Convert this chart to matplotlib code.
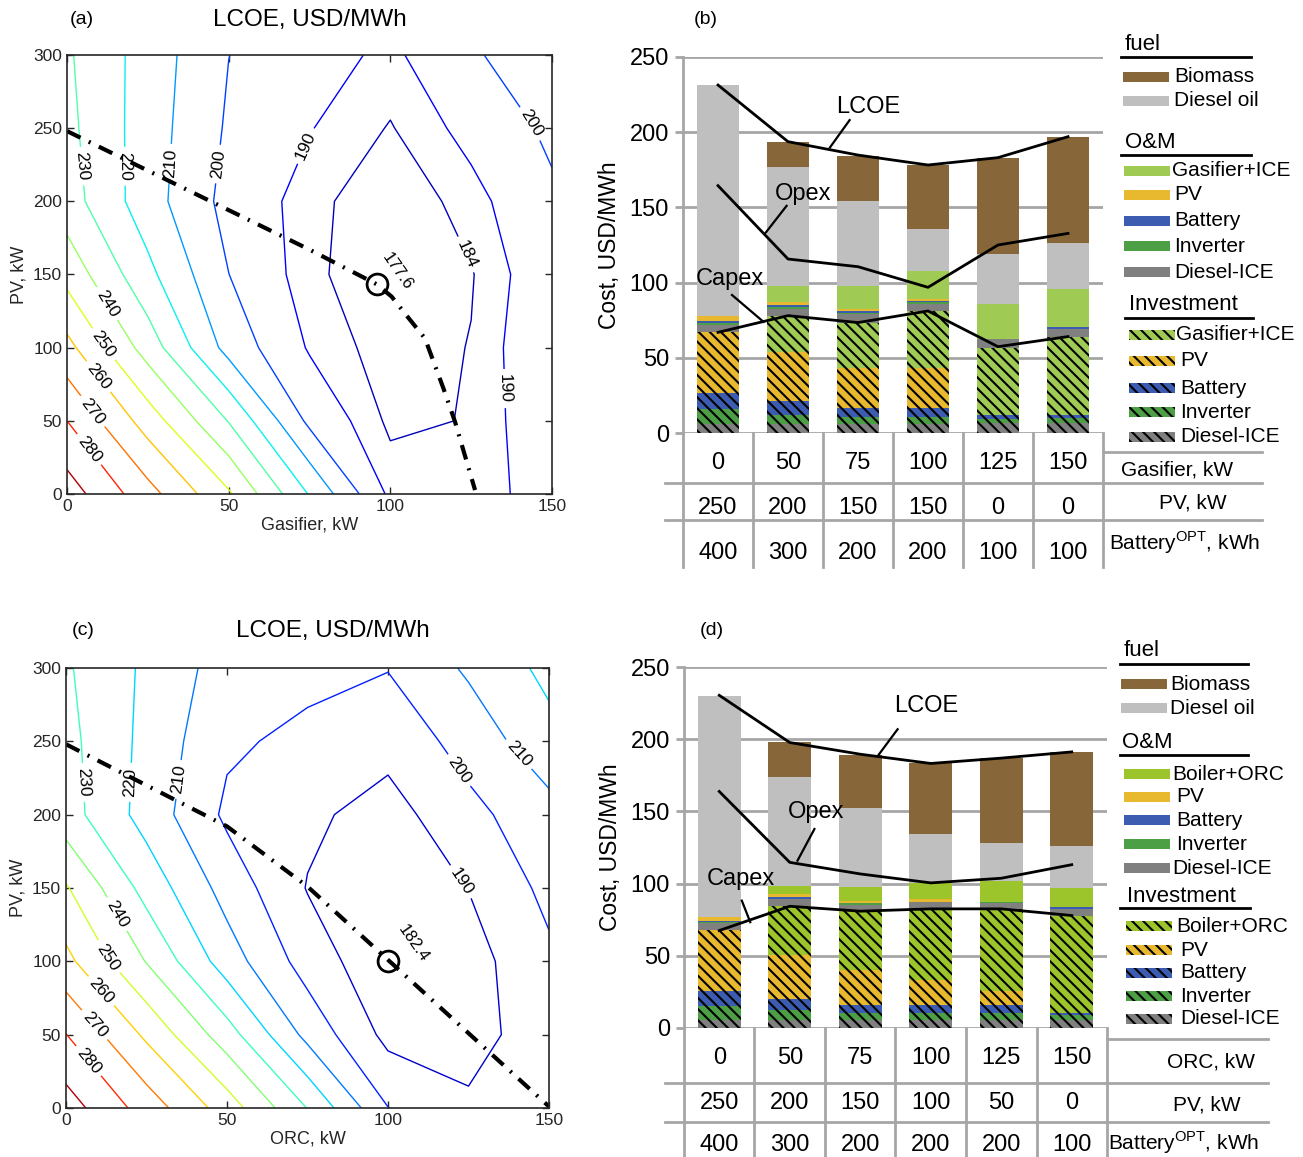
import numpy as np
import matplotlib
matplotlib.use('Agg')
import matplotlib.pyplot as plt
from matplotlib import font_manager
from matplotlib.colors import Normalize
from matplotlib.patches import Rectangle

plt.rcParams['font.family'] = ['Liberation Sans', 'DejaVu Sans']
plt.rcParams['mathtext.fontset'] = 'custom'
plt.rcParams['mathtext.rm'] = 'Liberation Sans'
plt.rcParams['hatch.linewidth'] = 1.5

# ---------------- contour maps: LCOE (USD/MWh), rows = PV kW, cols = gasifier / ORC kW
gen_kw = [0, 25, 50, 75, 100, 125, 150]
pv_kw = [0, 50, 100, 150, 200, 250, 300]

lcoe_gasifier = [
    [295.0, 273.7, 251.4, 219.3, 188.0, 187.0, 193.2],
    [280.0, 255.5, 229.5, 197.7, 182.5, 184.4, 197.5],
    [263.1, 235.5, 206.4, 189.1, 180.4, 184.3, 198.6],
    [246.6, 222.6, 200.1, 185.9, 178.0, 183.5, 196.8],
    [234.5, 214.4, 196.7, 186.5, 178.4, 187.2, 198.3],
    [232.6, 214.9, 198.7, 190.4, 183.5, 192.8, 202.0],
    [231.3, 215.6, 200.1, 194.0, 188.0, 199.1, 204.7],
]
lcoe_orc = [
    [294.7, 275.6, 255.3, 229.7, 200.2, 191.7, 196.0],
    [280.2, 258.1, 234.5, 207.0, 187.1, 186.0, 195.8],
    [262.7, 239.5, 214.9, 195.6, 182.4, 186.0, 198.0],
    [251.0, 226.3, 206.1, 189.5, 184.5, 190.2, 202.7],
    [234.3, 216.1, 198.1, 192.0, 186.0, 197.2, 206.3],
    [233.0, 217.2, 201.6, 197.6, 193.4, 203.8, 216.7],
    [231.2, 218.2, 205.4, 202.8, 200.4, 211.5, 222.7],
]
levels_a = [184, 190, 200, 210, 220, 230, 240, 250, 260, 270, 280, 290]
levels_c = [190, 200, 210, 220, 230, 240, 250, 260, 270, 280, 290]

# optimum PV size along generator size (dash-dot lines)
opt_gas = [0, 25, 50, 75, 95.8, 100.4, 105, 110.7, 116.4, 120, 124.1, 126.2]
opt_pv_gas = [248, 221, 194, 167, 143.3, 134.9, 122, 106.4, 72.3, 49.4, 18.5, 2.7]
opt_orc = [0, 50, 75, 100, 125, 150]
opt_pv_orc = [248, 192, 151, 101, 51, 1]
min_gas = (95.8, 143.3, 177.6)
min_orc = (100, 100, 182.4)

# contour label anchor points (data coords)
lab_a = [(6.6, 30), (7.6, 56), (10.2, 81), (11.8, 103), (12.3, 130), (4.5, 224), (17.9, 224),
         (31.4, 226), (44.7, 226), (72.6, 239), (142, 251), (126.6, 167), (134.9, 72)]
lab_c = [(6.4, 31), (8.5, 56), (11.1, 80), (13.1, 103), (14.2, 130), (5.4, 222), (20.2, 222),
         (35, 224), (121.9, 230), (140.5, 241), (123.2, 155)]

# ---------------- stacked bars (USD/MWh)
gasifier_kw = [0, 50, 75, 100, 125, 150]
pv_b = [250, 200, 150, 150, 0, 0]
battery_b = [400, 300, 200, 200, 100, 100]
orc_kw = [0, 50, 75, 100, 125, 150]
pv_d = [250, 200, 150, 100, 50, 0]
battery_d = [400, 300, 200, 200, 200, 100]

inv_dice_b = [6.2, 6.0, 6.0, 6.2, 6.6, 6.6]
inv_inverter_b = [9.7, 6.2, 4.6, 4.8, 2.7, 3.4]
inv_battery_b = [10.6, 9.5, 6.4, 6.0, 2.9, 2.2]
inv_pv_b = [41.0, 32.5, 26.1, 26.6, 0.0, 0.0]
inv_gen_b = [0.0, 23.7, 30.4, 37.6, 44.2, 52.0]
om_dice_b = [4.4, 4.4, 5.7, 4.6, 6.0, 4.8]
om_inverter_b = [1.6, 1.3, 0.9, 1.4, 0.0, 0.5]
om_battery_b = [1.3, 1.4, 1.3, 0.8, 0.0, 0.9]
om_pv_b = [3.3, 2.4, 1.3, 1.4, 0.0, 0.0]
om_gen_b = [0.0, 10.4, 15.3, 18.3, 23.4, 25.2]
fuel_diesel_b = [153.1, 78.7, 56.4, 27.9, 33.0, 30.9]
fuel_biomass_b = [0.0, 17.1, 29.7, 42.5, 63.7, 70.0]
lcoe_b = [231.2, 193.6, 184.7, 178.1, 183.0, 196.9]
opex_b = [164.4, 115.7, 110.6, 96.9, 125.0, 132.7]
capex_b = [67.0, 78.1, 73.5, 81.2, 57.5, 64.2]

inv_dice_d = [5.8, 5.8, 5.8, 5.8, 5.8, 5.8]
inv_inverter_d = [9.4, 6.4, 4.8, 4.8, 4.8, 3.0]
inv_battery_d = [10.1, 8.1, 5.1, 5.1, 5.1, 1.6]
inv_pv_d = [42.7, 30.6, 24.2, 17.2, 9.6, 0.0]
inv_gen_d = [0.0, 33.4, 41.0, 49.6, 57.2, 67.5]
om_dice_d = [4.6, 5.1, 4.4, 4.6, 4.1, 4.6]
om_inverter_d = [1.1, 0.0, 1.6, 0.0, 0.9, 0.0]
om_battery_d = [0.3, 1.5, 0.0, 0.0, 0.0, 1.1]
om_pv_d = [3.2, 1.8, 1.3, 2.3, 0.0, 0.0]
om_gen_d = [0.0, 5.5, 9.7, 10.8, 14.0, 13.4]
fuel_diesel_d = [152.8, 75.6, 54.4, 34.1, 26.3, 29.3]
fuel_biomass_d = [0.0, 24.2, 36.9, 48.9, 59.0, 64.9]
lcoe_d = [230.4, 197.7, 189.6, 183.2, 186.9, 191.2]
opex_d = [163.8, 114.7, 106.7, 100.5, 103.7, 113.1]
capex_d = [67.5, 84.3, 80.9, 82.5, 82.5, 77.9]

c_biomass = '#87673a'
c_dieseloil = '#bfbfbf'
c_gasice = '#9fcb55'
c_orc = '#9cc52b'
c_pv = '#e8b92e'
c_battery = '#3b5cb0'
c_inverter = '#4d9f45'
c_dice = '#808080'
grid_gray = '#a6a6a6'
HATCH = '\\\\\\'

names = {f.name for f in font_manager.fontManager.ttflist}
narrow = 'Liberation Sans Narrow' if 'Liberation Sans Narrow' in names else 'Liberation Sans'

W, H = 1303, 1157
fig = plt.figure(figsize=(W / 100, H / 100), dpi=100)


def box(l, t, r, b):
    return [l / W, 1 - b / H, (r - l) / W, (b - t) / H]


def contour_panel(ax, Z, levels, norm, labpos, ox, oy, mn, mn_txt, xlabel):
    cs = ax.contour(gen_kw, pv_kw, Z, levels=levels, cmap='jet', norm=norm, linewidths=1.0)
    ax.clabel(cs, manual=labpos, inline=True, fmt='%d', fontsize=12.5, colors='k', inline_spacing=5)
    ax.plot(ox, oy, color='k', lw=3, ls=(0, (3.6, 2.2, 0.5, 2.2)))
    ax.plot(mn[0], mn[1], 'o', ms=15, mfc='none', mec='k', mew=2)
    ax.text(mn_txt[0], mn_txt[1], '%.1f' % mn[2], rotation=-55, ha='center', va='center', fontsize=12)
    ax.set_xlim(0, 150)
    ax.set_ylim(0, 300)
    ax.set_xticks([0, 50, 100, 150])
    ax.set_yticks(range(0, 301, 50))
    ax.tick_params(direction='in', top=True, right=True, length=5, width=1, labelsize=12.5,
                   colors='#262626')
    for s in ax.spines.values():
        s.set_color('#262626')
        s.set_linewidth(1.2)
    ax.set_xlabel(xlabel, fontsize=13, color='#262626', labelpad=2)
    ax.set_ylabel('PV, kW', fontsize=13, color='#262626', labelpad=4)


ax_a = fig.add_axes(box(67, 55, 552, 494))
contour_panel(ax_a, lcoe_gasifier, levels_a, Normalize(177.6, 295), lab_a, opt_gas, opt_pv_gas,
              min_gas, (102.3, 152.4), 'Gasifier, kW')
ax_c = fig.add_axes(box(66, 668, 549, 1108))
contour_panel(ax_c, lcoe_orc, levels_c, Normalize(182.4, 295), lab_c, opt_orc, opt_pv_orc,
              min_orc, (107.8, 112.5), 'ORC, kW')

fig.text(82 / W, 1 - 20 / H, '(a)', fontsize=14, ha='center', va='center')
fig.text(310 / W, 1 - 20 / H, 'LCOE, USD/MWh', fontsize=17.5, ha='center', va='center')
fig.text(83 / W, 1 - 631 / H, '(c)', fontsize=14, ha='center', va='center')
fig.text(333 / W, 1 - 631 / H, 'LCOE, USD/MWh', fontsize=17.5, ha='center', va='center')
fig.text(706 / W, 1 - 20 / H, '(b)', fontsize=14, ha='center', va='center')
fig.text(712 / W, 1 - 631 / H, '(d)', fontsize=14, ha='center', va='center')


def bar_panel(ax, series, lines, notes, rows, row_y, row_labels, lab_xy, hl, f_bot, font):
    x = np.arange(6)
    bottom = np.zeros(6)
    for vals, col, hatched in series:
        ax.bar(x, vals, 0.61, bottom=bottom, color=col, hatch=HATCH if hatched else None,
               edgecolor='k' if hatched else 'none', linewidth=0, zorder=2)
        bottom += np.array(vals)
    for vals in lines:
        ax.plot(x, vals, color='k', lw=2, zorder=3)
    for txt, tx, ty, p0, p1 in notes:
        ax.text(tx, ty, txt, fontsize=17, ha='center', va='center', family=font, zorder=4)
        ax.plot([p0[0], p1[0]], [p0[1], p1[1]], color='k', lw=1.6, zorder=4)
    ax.set_xlim(-0.5, 5.5)
    ax.set_ylim(0, 250)
    ax.set_xticks([])
    ax.set_yticks(range(0, 251, 50))
    ax.set_yticklabels([str(v) for v in range(0, 251, 50)], family=font)
    ax.yaxis.grid(True, color=grid_gray, lw=2)
    ax.set_axisbelow(True)
    ax.tick_params(axis='y', length=6, width=2, color=grid_gray, labelsize=17, pad=4)
    for s in ['top', 'right', 'bottom']:
        ax.spines[s].set_visible(False)
    ax.spines['left'].set_color(grid_gray)
    ax.spines['left'].set_linewidth(2)
    ax.set_ylabel('Cost, USD/MWh', fontsize=16.5, labelpad=6, family=font)
    tr = ax.get_xaxis_transform()
    for k in range(7):
        ax.plot([k - 0.5, k - 0.5], [0, f_bot], transform=tr, clip_on=False, color=grid_gray, lw=2)
    for x0, x1, yy in hl:
        ax.plot([x0, x1], [yy, yy], transform=tr, clip_on=False, color=grid_gray, lw=2)
    for vals, yy in zip(rows, row_y):
        for i, v in enumerate(vals):
            ax.text(i, yy, str(v), transform=tr, ha='center', va='center', fontsize=17, family=font)
    for txt, (lx, ly) in zip(row_labels, lab_xy):
        ax.text(lx, ly, txt, transform=tr, ha='center', va='center', fontsize=15, family=font)


series_b = [(inv_dice_b, c_dice, True), (inv_inverter_b, c_inverter, True), (inv_battery_b, c_battery, True),
            (inv_pv_b, c_pv, True), (inv_gen_b, c_gasice, True),
            (om_dice_b, c_dice, False), (om_inverter_b, c_inverter, False), (om_battery_b, c_battery, False),
            (om_pv_b, c_pv, False), (om_gen_b, c_gasice, False),
            (fuel_diesel_b, c_dieseloil, False), (fuel_biomass_b, c_biomass, False)]
series_d = [(inv_dice_d, c_dice, True), (inv_inverter_d, c_inverter, True), (inv_battery_d, c_battery, True),
            (inv_pv_d, c_pv, True), (inv_gen_d, c_orc, True),
            (om_dice_d, c_dice, False), (om_inverter_d, c_inverter, False), (om_battery_d, c_battery, False),
            (om_pv_d, c_pv, False), (om_gen_d, c_orc, False),
            (fuel_diesel_d, c_dieseloil, False), (fuel_biomass_d, c_biomass, False)]

ax_b = fig.add_axes(box(683, 56.7, 1103, 433.3))
notes_b = [('LCOE', 2.15, 216.8, (1.88, 207.9), (1.6, 189.8)),
           ('Opex', 1.21, 158.6, (0.98, 151), (0.67, 132.5)),
           ('Capex', 0.17, 102.2, (0.2, 91.8), (0.65, 74))]
bar_panel(ax_b, series_b, [lcoe_b, opex_b, capex_b], notes_b,
          [gasifier_kw, pv_b, battery_b], [-0.079, -0.198, -0.318],
          ['Gasifier, kW', 'PV, kW', 'Battery$^{\\mathrm{OPT}}$, kWh'],
          [(6.56, -0.097), (6.79, -0.185), (6.67, -0.291)],
          [(-0.76, 7.77, -0.132), (-0.76, 7.77, -0.230), (5.5, 7.77, -0.050)], -0.355, 'Liberation Sans')

ax_d = fig.add_axes(box(684, 667, 1107, 1028))
notes_d = [('LCOE', 2.94, 223, (2.53, 206.9), (2.25, 188.5)),
           ('Opex', 1.37, 149.3, (1.35, 137.8), (1.11, 115.9)),
           ('Capex', 0.3, 103.2, (0.32, 88.2), (0.44, 73.3))]
bar_panel(ax_d, series_d, [lcoe_d, opex_d, capex_d], notes_d,
          [orc_kw, pv_d, battery_d], [-0.083, -0.208, -0.324],
          ['ORC, kW', 'PV, kW', 'Battery$^{\\mathrm{OPT}}$, kWh'],
          [(6.98, -0.094), (6.91, -0.213), (6.58, -0.319)],
          [(-0.77, 7.78, -0.152), (-0.77, 7.78, -0.260), (5.5, 7.78, -0.030)], -0.36, narrow)

# ---------------- legends (drawn in figure pixel space)
lax = fig.add_axes([0, 0, 1, 1], facecolor='none')
lax.set_xlim(0, W)
lax.set_ylim(H, 0)
lax.axis('off')


def legend(heads, solid, hatched, font, gen_name, gen_col):
    for txt, tx, ty, ux0, ux1, uy in heads:
        lax.text(tx, ty, txt, fontsize=16, ha='left', va='center', family=font)
        lax.plot([ux0, ux1], [uy, uy], color='k', lw=2)
    names_s = ['Biomass', 'Diesel oil', gen_name, 'PV', 'Battery', 'Inverter', 'Diesel-ICE']
    cols_s = [c_biomass, c_dieseloil, gen_col, c_pv, c_battery, c_inverter, c_dice]
    for (px, ty, tx), nm, col in zip(solid, names_s, cols_s):
        lax.add_patch(Rectangle((px, ty - 5), 46, 10, facecolor=col, edgecolor='none', lw=0))
        lax.text(tx, ty, nm, fontsize=15, ha='left', va='center', family=font)
    names_h = [gen_name, 'PV', 'Battery', 'Inverter', 'Diesel-ICE']
    cols_h = [gen_col, c_pv, c_battery, c_inverter, c_dice]
    for (px, ty, tx), nm, col in zip(hatched, names_h, cols_h):
        lax.add_patch(Rectangle((px, ty - 5), 46, 10, facecolor=col, hatch=HATCH, edgecolor='k', lw=0))
        lax.text(tx, ty, nm, fontsize=15, ha='left', va='center', family=font)


legend([('fuel', 1125, 44, 1121, 1251, 57), ('O&M', 1125, 142, 1121, 1251, 155),
        ('Investment', 1129, 305, 1125, 1253, 318)],
       [(1123, 77, 1174), (1123, 101, 1174), (1124, 171, 1172), (1124, 195, 1174),
        (1124, 221, 1174), (1124, 246, 1174), (1124, 272, 1174)],
       [(1129, 335, 1176), (1129, 361, 1180), (1129, 388, 1180), (1129, 412, 1180), (1129, 437, 1180)],
       'Liberation Sans', 'Gasifier+ICE', c_gasice)
legend([('fuel', 1124, 651, 1120, 1248, 664), ('O&M', 1122, 742, 1120, 1248, 755),
        ('Investment', 1127, 896, 1120, 1250, 908)],
       [(1121, 684, 1170), (1121, 708, 1170), (1124, 774, 1172), (1124, 797, 1176),
        (1124, 820, 1176), (1124, 844, 1176), (1124, 868, 1172)],
       [(1126, 926, 1176), (1126, 950, 1180), (1126, 973, 1180), (1126, 996, 1180), (1126, 1019, 1180)],
       narrow, 'Boiler+ORC', c_orc)

plt.savefig('out.png', dpi=100)
